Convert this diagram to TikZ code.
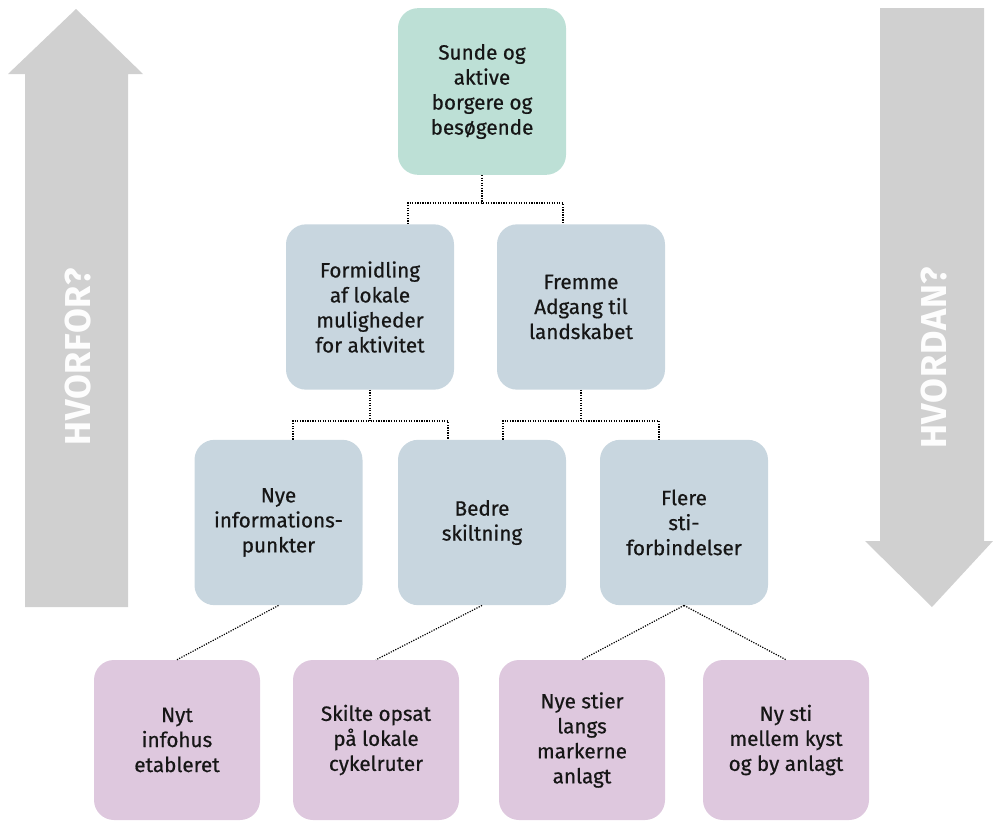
\documentclass[tikz,border=0pt]{standalone}
\usepackage{fontspec}
\setmainfont{Fira Sans}
\usepackage{xcolor}
\definecolor{goalgreen}{HTML}{BDE0D6}
\definecolor{meansblue}{HTML}{C8D6DF}
\definecolor{actpurple}{HTML}{DEC8DE}
\definecolor{arrowgrey}{HTML}{D0D0D0}
\definecolor{boxtext}{HTML}{161616}

\begin{document}
\begin{tikzpicture}[x=0.75pt,y=-0.75pt,
  box/.style={rounded corners=15pt,minimum width=126pt,minimum height=125pt,
    align=center,text=boxtext,font=\fontsize{15.5}{18.75}\selectfont\addfontfeatures{FakeBold=0.6}},
  goal/.style={box,fill=goalgreen},
  means/.style={box,fill=meansblue,minimum height=124pt},
  action/.style={box,fill=actpurple,minimum width=124.5pt,minimum height=120pt},
  link/.style={densely dotted,line width=0.9pt},
  bigarrow/.style={fill=arrowgrey},
  arrowlabel/.style={text=white!96!arrowgrey,rotate=90,
    font=\fontsize{27}{30}\selectfont\bfseries\addfontfeatures{LetterSpace=2}}]
\useasboundingbox (0,0) rectangle (993,822);
\fill[bigarrow] (25,607) -- (25,74) -- (8,74) -- (76,9) -- (143,74) -- (128,74) -- (128,607) -- cycle;
\fill[bigarrow] (880,8) -- (880,541) -- (865,541) -- (932,607) -- (993,541) -- (984,541) -- (984,8) -- cycle;
\node[arrowlabel] (why) at (78,357) {HVORFOR?};
\node[arrowlabel] (how) at (934,358) {HVORDAN?};

\node[goal] (top) at (482,91.5) {Sunde og\\aktive\\borgere og\\besøgende};
\node[means] (form) at (370,307) {Formidling\\af lokale\\muligheder\\for aktivitet};
\node[means] (frem) at (581,307) {Fremme\\Adgang til\\landskabet};
\node[means] (info) at (278.5,522.5) {Nye\\informations-\\punkter};
\node[means] (skilt) at (482,522.5) {Bedre\\skiltning};
\node[means] (sti) at (684,522.5) {Flere\\sti-\\forbindelser};
\node[action] (nyt) at (177,740) {Nyt\\infohus\\etableret};
\node[action] (opsat) at (376,740) {Skilte opsat\\på lokale\\cykelruter};
\node[action] (stier) at (582,740) {Nye stier\\langs\\markerne\\anlagt};
\node[action] (kyst) at (786,740) {Ny sti\\mellem kyst\\og by anlagt};

\coordinate (j1l) at (408,203);
\coordinate (j1r) at (563,203);
\draw[link] (top.south) -- (top.south |- j1l);
\draw[link] (j1l |- form.north) -- (j1l) -- (j1r) -- (j1r |- frem.north);
\coordinate (j2l) at (293,421);
\coordinate (j2r) at (448,421);
\draw[link] (form.south) -- (form.south |- j2l);
\draw[link] (j2l |- info.north) -- (j2l) -- (j2r) -- (j2r |- skilt.north);
\coordinate (j3l) at (503,421);
\coordinate (j3r) at (659,421);
\draw[link] (frem.south) -- (frem.south |- j3l);
\draw[link] (j3l |- skilt.north) -- (j3l) -- (j3r) -- (j3r |- sti.north);
\draw[link] (info.south) -- (nyt.north);
\draw[link] (skilt.south) -- (opsat.north);
\draw[link] (sti.south) -- (stier.north);
\draw[link] (sti.south) -- (kyst.north);
\end{tikzpicture}
\end{document}
